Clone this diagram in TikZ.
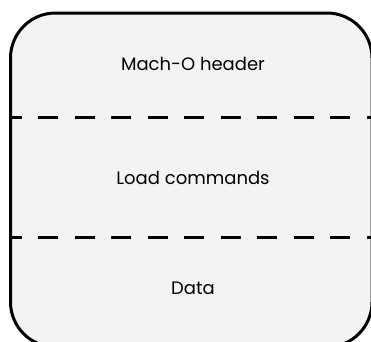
\documentclass[tikz,border=0pt]{standalone}
\usepackage{fontspec}
\setmainfont{Poppins}
\definecolor{boxfill}{HTML}{F2F3F3}
\begin{document}
\begin{tikzpicture}[x=1pt,y=-1pt,
  sep/.style={line width=3.2pt,dash pattern=on 20pt off 16.5pt,dash phase=9pt},
  lbl/.style={font=\fontsize{18}{20}\selectfont}]
\useasboundingbox (0,0) rectangle (371,341);
\begin{scope}
\clip (0,0) rectangle (371,341);
\draw[line width=3pt,fill=boxfill,rounded corners=45pt] (10.5,13) rectangle (372,347);
\coordinate (s1l) at (10.5,117.3);
\coordinate (s1r) at (380,117.3);
\coordinate (s2l) at (10.5,237.3);
\coordinate (s2r) at (380,237.3);
\draw[sep] (s1l) -- (s1r);
\draw[sep] (s2l) -- (s2r);
\end{scope}
\node[lbl] (header) at (193,64) {Mach-O header};
\node[lbl] (loadcmds) at (193,178) {Load commands};
\node[lbl] (data) at (193,288) {Data};
\end{tikzpicture}
\end{document}
